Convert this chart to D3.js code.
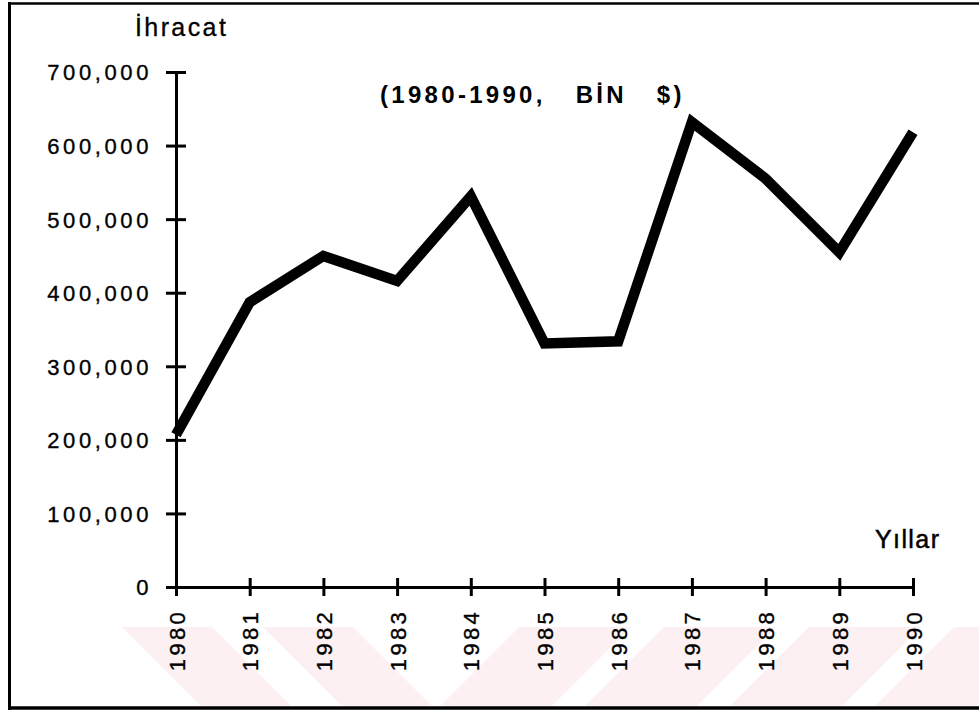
<!DOCTYPE html>
<html>
<head>
<meta charset="utf-8">
<script src="https://cdn.jsdelivr.net/npm/d3@7/dist/d3.min.js"></script>
<style>
  html, body { margin: 0; padding: 0; background: #fff; }
  svg { display: block; }
  text { font-family: "Liberation Sans", Arial, Helvetica, sans-serif; fill: #000; }
</style>
</head>
<body>
<div id="chart"></div>
<script>
// ----- Data -----
const years = [1980, 1981, 1982, 1983, 1984, 1985, 1986, 1987, 1988, 1989, 1990];
const exports = [207000, 387000, 450000, 416000, 531000, 331000, 334000, 632000, 555000, 455000, 618000];
const yTicks = [0, 100000, 200000, 300000, 400000, 500000, 600000, 700000];

const yLabel = "İhracat";
const xLabel = "Yıllar";
const titleText = "(1980-1990,   BİN   $)";

// ----- Layout -----
const W = 979, H = 714;
const X0 = 176, X1 = 913;   // 1980 .. 1990
const Y0 = 587, Y1 = 72;    // 0 .. 700,000

const svg = d3.select("#chart").append("svg")
  .attr("width", W)
  .attr("height", H);

// faint pink watermark bands at the bottom (scan artefact)
const WM_TOP = 627, WM_BOT = 706, WM_H = WM_BOT - WM_TOP;
const backSlash = [122, 263];            // "\" bands, left x at top
const fwdSlash = [440, 585, 730, 875];   // "/" bands, left x at bottom
const wm = svg.append("g").attr("fill", "#fdf0f2");
backSlash.forEach(x => {
  wm.append("path").attr("d",
    `M${x},${WM_TOP}L${x + 90},${WM_TOP}L${x + 90 + WM_H},${WM_BOT}L${x + WM_H},${WM_BOT}Z`);
});
fwdSlash.forEach(x => {
  wm.append("path").attr("d",
    `M${x},${WM_BOT}L${x + 112},${WM_BOT}L${x + 112 + WM_H},${WM_TOP}L${x + WM_H},${WM_TOP}Z`);
});

// frame (no right edge visible in the scan)
const frame = svg.append("g").attr("stroke", "#000").attr("fill", "none");
frame.append("line").attr("x1", 9).attr("x2", W).attr("y1", 3.5).attr("y2", 3.5).attr("stroke-width", 2.5);
frame.append("line").attr("x1", 9.5).attr("x2", 9.5).attr("y1", 2).attr("y2", 710).attr("stroke-width", 3);
frame.append("line").attr("x1", 8).attr("x2", W).attr("y1", 708).attr("y2", 708).attr("stroke-width", 3.5);

// ----- Scales -----
const x = d3.scalePoint().domain(years).range([X0, X1]);
const y = d3.scaleLinear().domain([0, 700000]).range([Y0, Y1]);

// ----- Axes -----
const yAxis = svg.append("g")
  .attr("transform", `translate(${X0},0)`)
  .call(d3.axisLeft(y).tickValues(yTicks).tickFormat(d3.format(",")).tickSizeInner(10).tickSizeOuter(0));
yAxis.select(".domain").attr("stroke", "#000").attr("stroke-width", 3);
yAxis.selectAll(".tick line").attr("x2", 10).attr("x1", -10).attr("stroke", "#000").attr("stroke-width", 3);
yAxis.selectAll(".tick text")
  .attr("x", -24)
  .attr("dy", "0.36em")
  .attr("font-size", 22)
  .attr("letter-spacing", 3.6)
  .attr("stroke", "#000").attr("stroke-width", 0.35);

const xAxis = svg.append("g")
  .attr("transform", `translate(0,${Y0})`)
  .call(d3.axisBottom(x).tickSizeInner(9).tickSizeOuter(0));
xAxis.select(".domain").attr("stroke", "#000").attr("stroke-width", 3);
xAxis.selectAll(".tick line").attr("y1", -9).attr("y2", 9).attr("stroke", "#000").attr("stroke-width", 3);
xAxis.selectAll(".tick text")
  .attr("x", 0).attr("y", 0)
  .attr("dy", null)
  .attr("text-anchor", "end")
  .attr("transform", "translate(8,22) rotate(-90)")
  .attr("font-size", 22)
  .attr("letter-spacing", 3.3)
  .attr("stroke", "#000").attr("stroke-width", 0.35);
svg.selectAll(".tick text")
  .attr("fill", "#000")
  .style("font-family", "Liberation Sans, Arial, sans-serif");

// ----- Line -----
const line = d3.line()
  .x((d, i) => x(years[i]))
  .y(d => y(d));

svg.append("path")
  .datum(exports)
  .attr("d", line)
  .attr("fill", "none")
  .attr("stroke", "#000")
  .attr("stroke-width", 10.5)
  .attr("stroke-linejoin", "miter")
  .attr("stroke-miterlimit", 4)
  .attr("stroke-linecap", "butt");

// ----- Labels -----
svg.append("text")
  .attr("x", 135).attr("y", 36)
  .attr("font-size", 25)
  .attr("letter-spacing", 2.4)
  .attr("stroke", "#000").attr("stroke-width", 0.3)
  .text(yLabel);

svg.append("text")
  .attr("x", 875).attr("y", 548)
  .attr("font-size", 25)
  .attr("letter-spacing", 1.4)
  .attr("stroke", "#000").attr("stroke-width", 0.5)
  .text(xLabel);

svg.append("text")
  .attr("x", 380).attr("y", 103)
  .attr("font-size", 24)
  .attr("font-weight", "bold")
  .attr("letter-spacing", 3.3)
  .style("white-space", "pre")
  .attr("xml:space", "preserve")
  .text(titleText);
</script>
</body>
</html>
